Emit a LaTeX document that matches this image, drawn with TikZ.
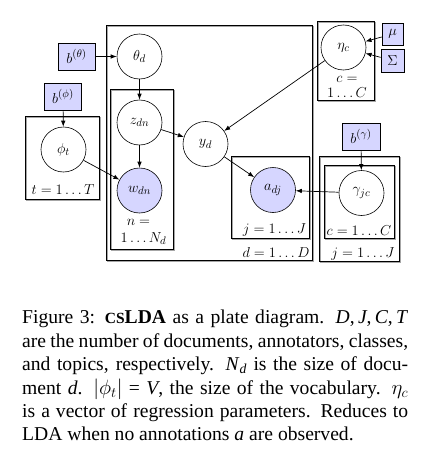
\documentclass[tikz,border=0pt]{standalone}
\usepackage{fontspec}
\setmainfont{Liberation Serif}
\usetikzlibrary{arrows.meta}
\definecolor{obsfill}{RGB}{214,214,255}
\newcommand{\ti}[1]{\textit{#1}}
\begin{document}
\begin{tikzpicture}[x=1pt,y=-1pt,
 font=\fontsize{15}{17}\selectfont,
 latent/.style={circle,draw,line width=0.6pt,minimum size=45pt,inner sep=0pt},
 obs/.style={latent,fill=obsfill},
 param/.style={rectangle,draw,line width=0.6pt,fill=obsfill,minimum width=37pt,minimum height=27pt,inner sep=1pt},
 plate/.style={draw,line width=0.6pt,preaction={draw=gray!70,line width=0.9pt,transform canvas={shift={(1pt,-1pt)}}}},
 edge/.style={-{Latex[length=6pt,width=4.5pt]},line width=0.7pt},
 lab/.style={anchor=base,inner sep=0pt}]
\useasboundingbox (0,0) rectangle (436,460);
% plates
\draw[plate] (106,25) rectangle (312,260);
\draw[plate] (110,89) rectangle (173,249);
\draw[plate] (25,116) rectangle (99,199);
\draw[plate] (231,156) rectangle (309,238);
\draw[plate] (317,21) rectangle (374,100);
\draw[plate] (319,156) rectangle (399,261);
\draw[plate] (324,165) rectangle (394,238);
% nodes
\node[latent] (theta) at (139.5,56.5) {$\theta_d$};
\node[param] (btheta) at (76.5,56.5) {$b^{(\theta)}$};
\node[latent] (z) at (139.5,122.5) {$z_{dn}$};
\node[obs] (w) at (139.5,190.5) {$w_{dn}$};
\node[latent] (y) at (205.5,144) {$y_d$};
\node[latent] (phi) at (63.5,149.5) {$\phi_t$};
\node[param] (bphi) at (63,96.5) {$b^{(\phi)}$};
\node[obs] (a) at (273,190) {$a_{dj}$};
\node[latent] (eta) at (343.5,47.5) {$\eta_c$};
\node[param,minimum width=21pt,minimum height=22pt] (mu) at (392.5,34) {$\mu$};
\node[param,minimum width=23pt,minimum height=23pt] (sigma) at (392.5,60.5) {$\Sigma$};
\node[latent] (gamma) at (361.5,193) {$\gamma_{jc}$};
\node[param,minimum width=38pt] (bgamma) at (361,136.5) {$b^{(\gamma)}$};
% plate labels
\node[lab] (ln1) at (138.5,225) {$n=$};
\node[lab] (ln2) at (143.5,242) {$1\ldots N_d$};
\node[lab] (lt) at (63,194) {$t=1\ldots T$};
\node[lab] (laj) at (274.5,233) {$j=1\ldots J$};
\node[lab] (ld) at (276,257) {$d=1\ldots D$};
\node[lab] (lc1) at (347,82) {$c=$};
\node[lab] (lc2) at (347,97) {$1\ldots C$};
\node[lab] (lgc) at (359,235) {$c=1\ldots C$};
\node[lab] (lgj) at (363,257) {$j=1\ldots J$};
% edges
\draw[edge] (btheta) -- (theta);
\draw[edge] (theta) -- (z);
\draw[edge] (z) -- (w);
\draw[edge] (z) -- (y);
\draw[edge] (bphi) -- (phi);
\draw[edge] (phi) -- (w);
\draw[edge] (eta) -- (y);
\draw[edge] (mu) -- (eta);
\draw[edge] (sigma) -- (eta);
\draw[edge] (y) -- (a);
\draw[edge] (gamma) -- (a);
\draw[edge] (bgamma) -- (gamma);
% caption
\node[anchor=north west,inner sep=0pt,text width=386pt,align=justify,font=\fontsize{19.6}{23.4}\selectfont] (cap) at (22,310) {Figure 3: \textbf{{\fontsize{15.5}{18}\selectfont CS}LDA} as a plate diagram. \ti{D},\,\ti{J},\,\ti{C},\,\ti{T}\linebreak are the number of documents, annotators, classes,\linebreak and topics, respectively. \ti{N}\textsubscript{\ti{d}} is the size of docu-\linebreak ment \ti{d}. $|\phi_t|$ = \ti{V}, the size of the vocabulary. $\eta_c$\linebreak is a vector of regression parameters. Reduces to\linebreak LDA when no annotations \ti{a} are observed.};
\end{tikzpicture}
\end{document}
